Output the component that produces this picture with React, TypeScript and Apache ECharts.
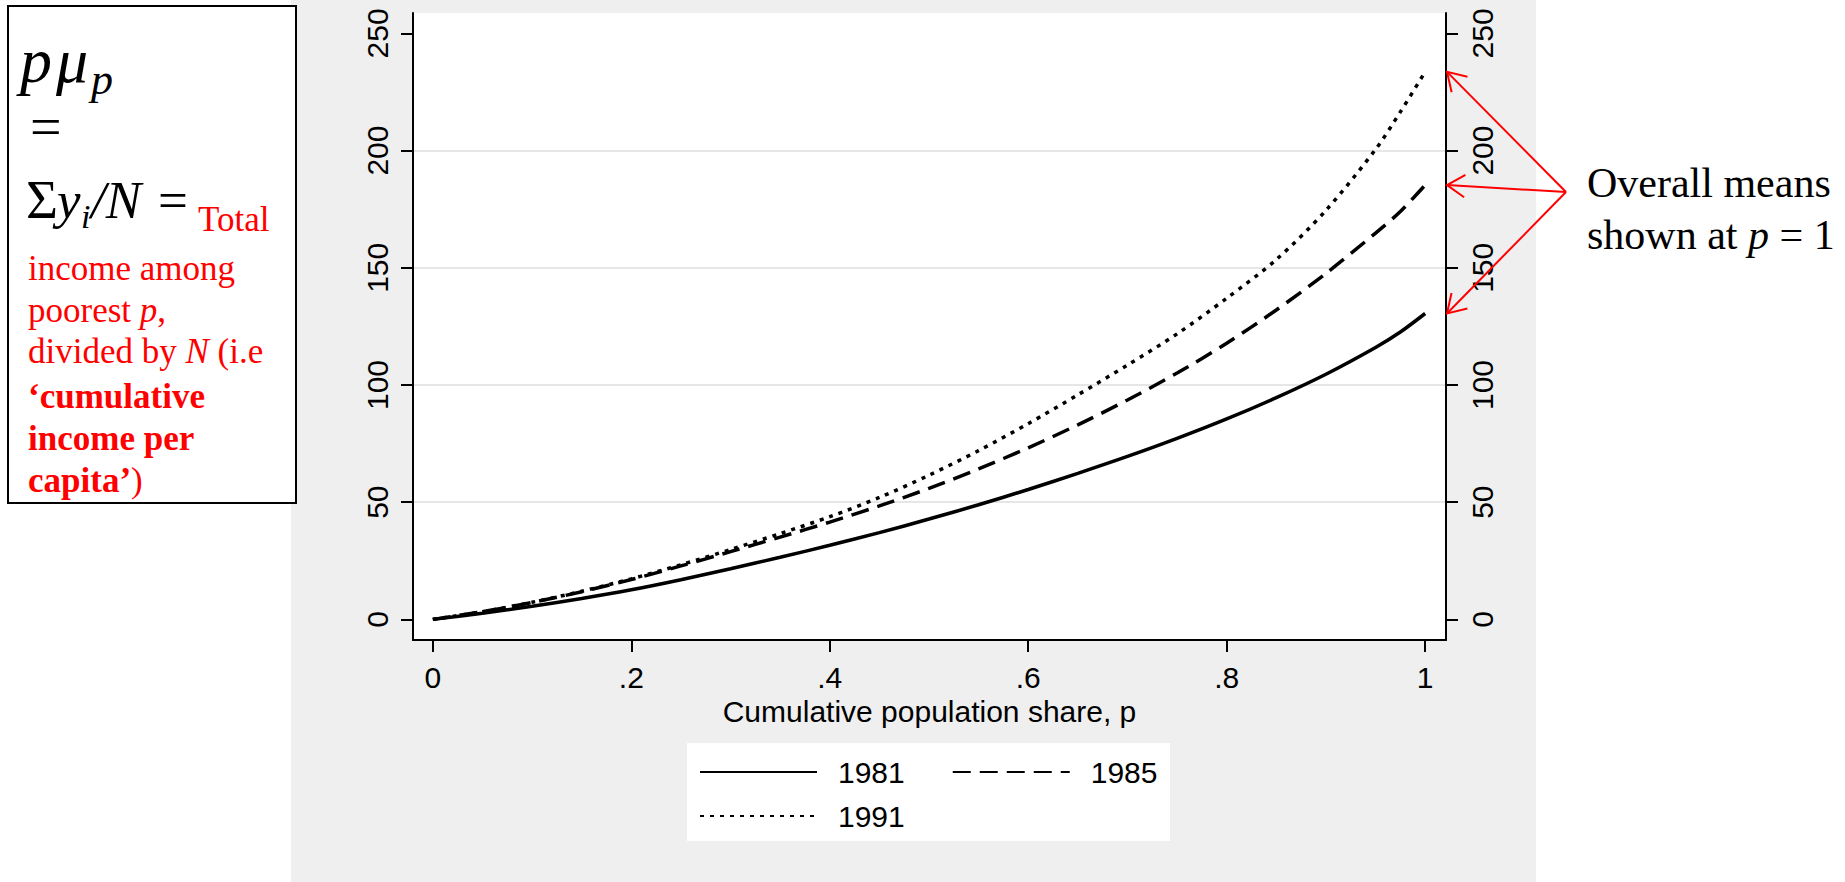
import React, { useEffect, useRef } from 'react';
import * as echarts from 'echarts';

// ---- data ----
const years = ['1981', '1985', '1991'];
const shares = [0, 0.05, 0.1, 0.15, 0.2, 0.25, 0.3, 0.35, 0.4, 0.45, 0.5, 0.55, 0.6, 0.65, 0.7, 0.75, 0.8, 0.85, 0.9, 0.95, 0.975, 1];
const gl1981 = [0, 2.6, 5.6, 8.9, 12.6, 16.9, 21.6, 26.5, 31.6, 37.0, 42.8, 48.9, 55.4, 62.3, 69.5, 77.2, 85.5, 94.6, 104.6, 116.0, 122.6, 130.5];
const gl1985 = [0, 3.3, 7.2, 11.8, 17.0, 22.8, 28.9, 35.1, 41.5, 48.4, 55.9, 64.2, 73.2, 83.0, 93.6, 105.1, 117.8, 132.0, 147.6, 164.8, 174.0, 185.3];
const gl1991 = [0, 3.3, 7.3, 12.0, 17.3, 23.3, 29.8, 36.6, 43.8, 52.0, 61.5, 72.0, 83.5, 95.8, 108.5, 121.8, 137.0, 153.5, 174.5, 200.5, 216.5, 233.6];
const yTicks = [0, 50, 100, 150, 200, 250];
const xTicks = [0, 0.2, 0.4, 0.6, 0.8, 1];
const xTickLabels = ['0', '.2', '.4', '.6', '.8', '1'];
const xTitle = 'Cumulative population share, p';

const SANS = 'Liberation Sans';
const SERIF = 'Liberation Serif';
const RED = '#ff0000';
const X_MIN = -0.02;
const X_MAX = 1.021;
const Y_MIN = -8.8;
const Y_MAX = 258.7;

function serifText(x: number, baseline: number, size: number, text: string, extra: any = {}) {
  return {
    type: 'text',
    x,
    y: baseline - 0.3375 * size,
    z: 20,
    style: {
      text,
      fontFamily: SERIF,
      fontSize: size,
      fill: '#000',
      align: 'left',
      verticalAlign: 'middle',
      textAlign: 'left',
      textVerticalAlign: 'middle',
      ...extra,
    },
  };
}

function arrow(tx: number, ty: number, ox: number, oy: number) {
  const dx = ox - tx;
  const dy = oy - ty;
  const len = Math.sqrt(dx * dx + dy * dy);
  const ux = dx / len;
  const uy = dy / len;
  const a = (32 * Math.PI) / 180;
  const L = 21;
  const r1 = [tx + L * (ux * Math.cos(a) - uy * Math.sin(a)), ty + L * (ux * Math.sin(a) + uy * Math.cos(a))];
  const r2 = [tx + L * (ux * Math.cos(-a) - uy * Math.sin(-a)), ty + L * (ux * Math.sin(-a) + uy * Math.cos(-a))];
  return [
    { type: 'line', z: 20, shape: { x1: ox, y1: oy, x2: tx, y2: ty }, style: { stroke: RED, lineWidth: 2 } },
    { type: 'polyline', z: 20, shape: { points: [r1, [tx, ty], r2] }, style: { stroke: RED, lineWidth: 2, fill: null } },
  ];
}

export default function App() {
  const ref = useRef<HTMLDivElement>(null);
  useEffect(() => {
    if (!ref.current) return;
    const chart = echarts.init(ref.current, undefined, { renderer: 'svg' });
    const seriesData = [gl1981, gl1985, gl1991];
    const lineTypes: any[] = ['solid', [18, 9], [4, 6]];
    const legendText = {
      fontSize: 30,
      fontFamily: SANS,
      color: '#000',
      padding: [0, 0, 0, 16],
    };
    const legendBase = {
      orient: 'horizontal',
      itemWidth: 117,
      itemHeight: 14,
      itemGap: 47,
      selectedMode: false,
      textStyle: legendText,
      itemStyle: { color: 'rgba(0,0,0,0)', borderWidth: 0, opacity: 0 },
    };
    const yAxisBase = {
      type: 'value',
      min: Y_MIN,
      max: Y_MAX,
      axisLine: { show: true, onZero: false, lineStyle: { color: '#000', width: 2 } },
      axisTick: { show: true, length: 12, customValues: yTicks, lineStyle: { color: '#000', width: 2 } },
      axisLabel: {
        show: true,
        customValues: yTicks,
        rotate: 90,
        fontSize: 30,
        fontFamily: SANS,
        color: '#000',
        margin: 21,
        formatter: (v: number) => String(Math.round(v)),
      },
    };
    chart.setOption({
      animation: false,
      backgroundColor: '#ffffff',
      grid: {
        left: 413,
        right: 399,
        top: 13,
        bottom: 242,
        show: true,
        backgroundColor: '#ffffff',
        borderWidth: 0,
        containLabel: false,
      },
      xAxis: {
        type: 'value',
        min: X_MIN,
        max: X_MAX,
        name: xTitle,
        nameLocation: 'middle',
        nameGap: 52,
        nameTextStyle: { fontSize: 30, fontFamily: SANS, color: '#000' },
        axisLine: { show: true, onZero: false, lineStyle: { color: '#000', width: 2 } },
        axisTick: { show: true, length: 12, customValues: xTicks, lineStyle: { color: '#000', width: 2 } },
        axisLabel: {
          show: true,
          customValues: xTicks,
          fontSize: 30,
          fontFamily: SANS,
          color: '#000',
          margin: 22,
          formatter: (v: number) => {
            const i = xTicks.findIndex((t) => Math.abs(t - v) < 1e-6);
            return i >= 0 ? xTickLabels[i] : '';
          },
        },
        splitLine: { show: false },
      },
      yAxis: [
        {
          ...yAxisBase,
          position: 'left',
          splitLine: { show: true, showMinLine: false, showMaxLine: false, lineStyle: { color: '#e6e6e6', width: 2 } },
        },
        {
          ...yAxisBase,
          position: 'right',
          splitLine: { show: false },
        },
      ],
      legend: [
        { ...legendBase, data: [years[0], years[1]], left: 694, top: 752 },
        { ...legendBase, data: [years[2]], left: 694, top: 796 },
      ],
      series: years.map((y, k) => ({
        name: y,
        type: 'line',
        xAxisIndex: 0,
        yAxisIndex: 0,
        data: shares.map((p, i) => [p, seriesData[k][i]]),
        symbol: 'none',
        showSymbol: false,
        smooth: 0.3,
        lineStyle: { color: '#000', width: 3.5, type: lineTypes[k], cap: 'butt' },
        itemStyle: { color: '#000' },
        z: 3,
      })),
    });

    const rightX = chart.convertToPixel({ xAxisIndex: 0 }, X_MAX) as number;
    const ox = 1566;
    const oy = 192;
    const arrows: any[] = [];
    seriesData.forEach((s) => {
      const ty = chart.convertToPixel({ yAxisIndex: 0 }, s[s.length - 1]) as number;
      arrows.push(...arrow(rightX + 1, ty, ox, oy));
    });

    const redRich = {
      it: { fontFamily: SERIF, fontSize: 35, fontStyle: 'italic', fill: RED },
      b: { fontFamily: SERIF, fontSize: 35, fontWeight: 'bold', fill: RED },
    };

    chart.setOption({
      graphic: [
        { type: 'rect', z: -5, shape: { x: 291, y: 0, width: 1245, height: 882 }, style: { fill: '#efefef' } },
        { type: 'rect', z: 1, shape: { x: 687, y: 743, width: 483, height: 98 }, style: { fill: '#ffffff' } },
        { type: 'rect', z: 10, shape: { x: 8, y: 6, width: 288, height: 497 }, style: { fill: '#ffffff', stroke: '#000', lineWidth: 2 } },
        serifText(20, 82, 64, 'p', { fontStyle: 'italic' }),
        serifText(56, 82, 64, 'μ', { fontStyle: 'italic' }),
        serifText(91, 94, 44, 'p', { fontStyle: 'italic' }),
        serifText(30, 146, 56, '='),
        serifText(26, 218, 55, 'Σ'),
        serifText(57, 218, 53, 'y', { fontStyle: 'italic' }),
        serifText(81, 228, 34, 'i', { fontStyle: 'italic' }),
        serifText(91, 218, 53, '/N', { fontStyle: 'italic' }),
        serifText(158, 218, 53, '='),
        serifText(198, 231, 35, 'Total', { fill: RED }),
        serifText(28, 280, 35, 'income among', { fill: RED }),
        serifText(28, 322, 35, 'poorest {it|p},', { fill: RED, rich: redRich }),
        serifText(28, 363, 35, 'divided by {it|N} (i.e', { fill: RED, rich: redRich }),
        serifText(28, 408, 35, '‘cumulative', { fill: RED, fontWeight: 'bold' }),
        serifText(28, 450, 35, 'income per', { fill: RED, fontWeight: 'bold' }),
        serifText(28, 492, 35, '{b|capita’})', { fill: RED, rich: redRich }),
        ...arrows,
        serifText(1587, 197, 42, 'Overall means'),
        serifText(1587, 249, 42, 'shown at {it|p} = 1', {
          rich: { it: { fontFamily: SERIF, fontSize: 42, fontStyle: 'italic', fill: '#000' } },
        }),
      ],
    });

    return () => {
      chart.dispose();
    };
  }, []);
  return (
    <div
      ref={ref}
      style={{ position: 'fixed', left: 0, top: 0, width: 1845, height: 882 }}
    />
  );
}
